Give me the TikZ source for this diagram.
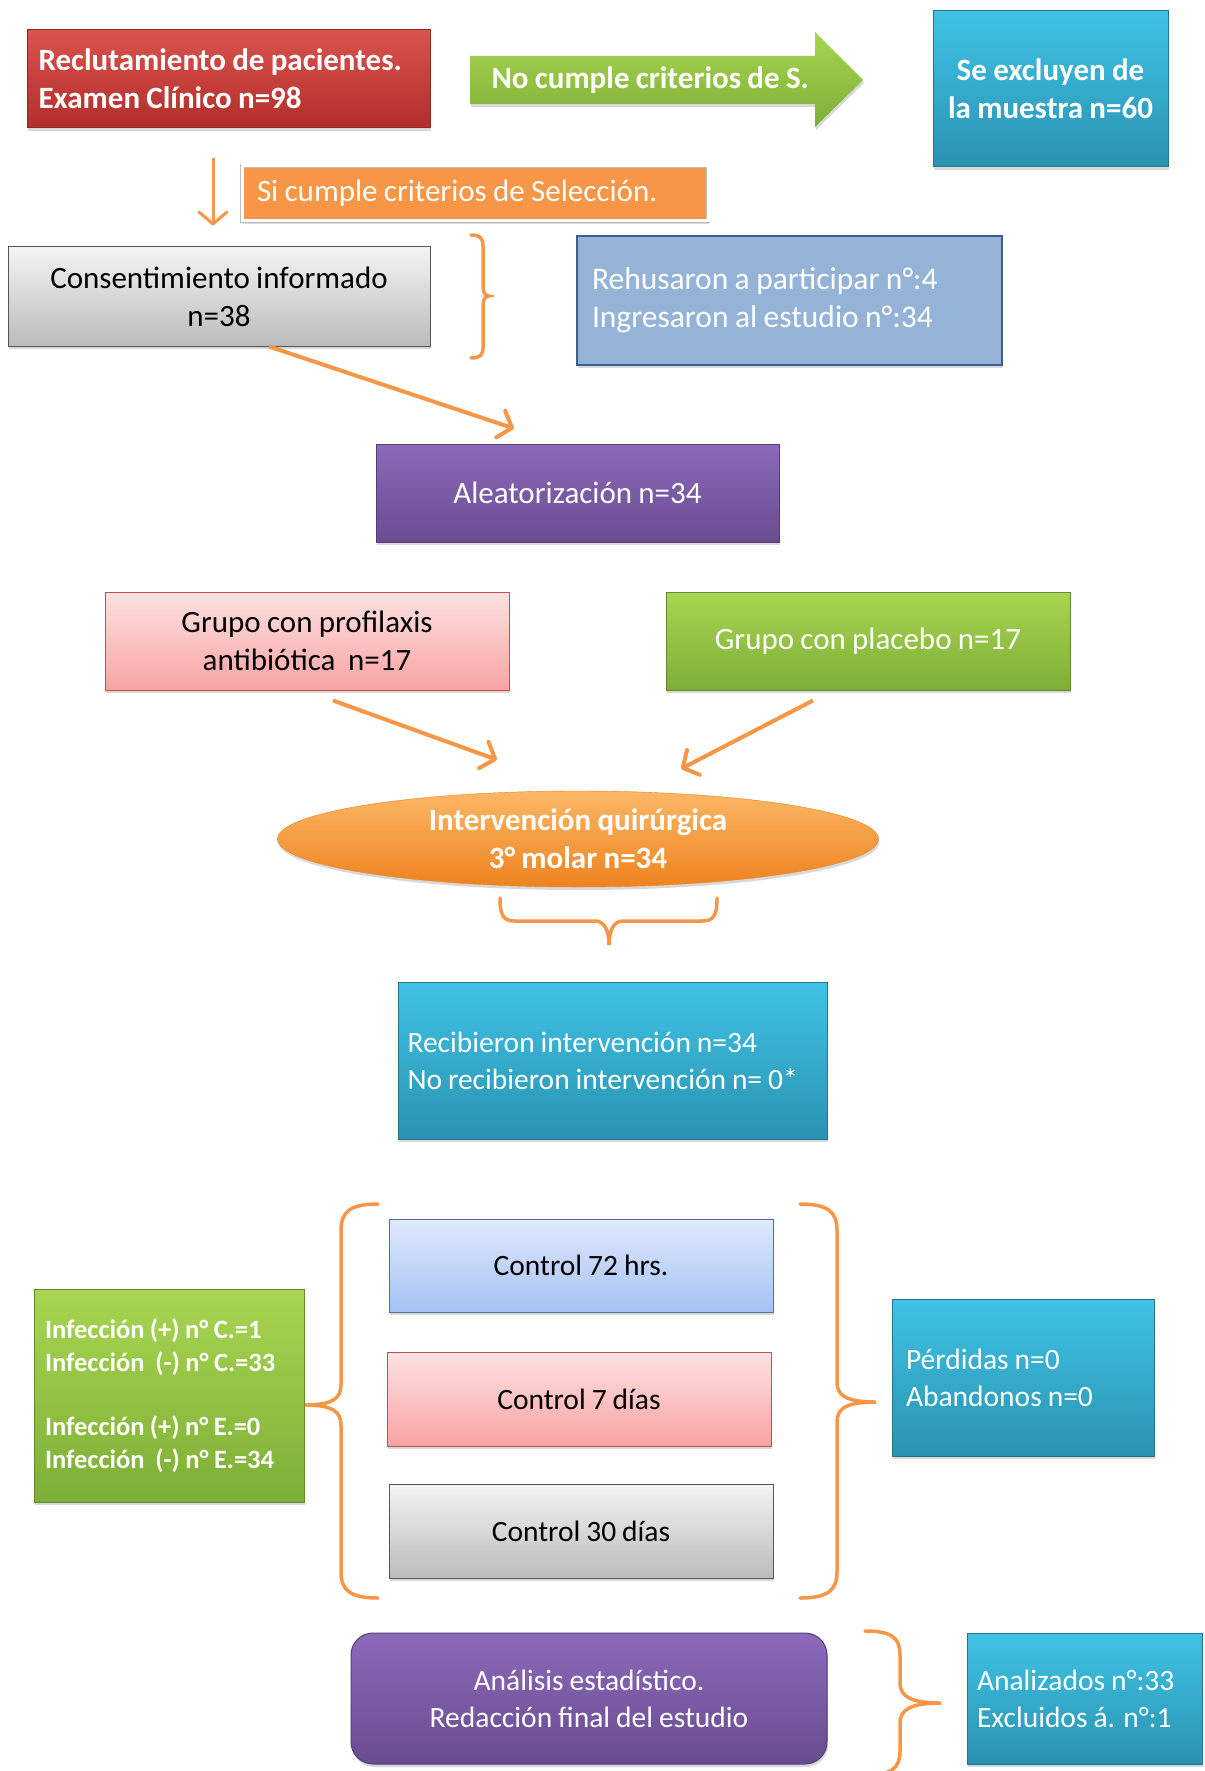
\documentclass[tikz,border=0pt]{standalone}
\usepackage{fontspec}
\setmainfont{Carlito}[WordSpace=0.9]
\usetikzlibrary{shapes.geometric, arrows.meta, shadows}

\definecolor{rojoT}{HTML}{D9534E}
\definecolor{rojoB}{HTML}{B22E2A}
\definecolor{rojoD}{HTML}{8E2825}
\definecolor{verdeT}{HTML}{A8D652}
\definecolor{verdeB}{HTML}{7DAE36}
\definecolor{aquaT}{HTML}{3FC3E6}
\definecolor{aquaB}{HTML}{2A92B0}
\definecolor{naranja}{HTML}{F79646}
\definecolor{naranjaT}{HTML}{FBB766}
\definecolor{naranjaB}{HTML}{EE831F}
\definecolor{grisT}{HTML}{F4F4F4}
\definecolor{grisB}{HTML}{BBBBBB}
\definecolor{grisD}{HTML}{555555}
\definecolor{azulR}{HTML}{95B3D7}
\definecolor{azulD}{HTML}{3A5F8F}
\definecolor{moradoT}{HTML}{8C69BA}
\definecolor{moradoB}{HTML}{694C90}
\definecolor{rosaT}{HTML}{FDE2E2}
\definecolor{rosaB}{HTML}{F9A3A3}
\definecolor{rosaD}{HTML}{C0504D}
\definecolor{celesteT}{HTML}{DFE9FD}
\definecolor{celesteB}{HTML}{A5C2F3}
\definecolor{celesteD}{HTML}{4F6FA0}

\newcommand\fsz{\fontsize{31}{38}\selectfont}
\newcommand\fsm{\fontsize{29.5}{37}\selectfont}
\newcommand\fsp{\fontsize{26.5}{32.5}\selectfont}

\tikzset{
  caja/.style={rectangle, inner sep=0pt, align=center, font=\fsz, text=white,
    drop shadow={shadow xshift=1pt, shadow yshift=-3pt, opacity=.3}},
  cajaizq/.style={caja, align=flush left},
  roja/.style={top color=rojoT, bottom color=rojoB, draw=rojoD, line width=1pt},
  aqua/.style={top color=aquaT, bottom color=aquaB, draw=aquaB!80!black, line width=1pt},
  gris/.style={top color=grisT, bottom color=grisB, draw=grisD, line width=1pt, text=black},
  morada/.style={top color=moradoT, bottom color=moradoB, draw=moradoB!80!black, line width=1pt},
  rosa/.style={top color=rosaT, bottom color=rosaB, draw=rosaD, line width=1pt, text=black},
  verde/.style={top color=verdeT, bottom color=verdeB, draw=verdeB!80!black, line width=1pt},
  celeste/.style={top color=celesteT, bottom color=celesteB, draw=celesteD, line width=1pt, text=black},
  conn/.style={draw=naranja, line width=4pt, -{Straight Barb[length=12pt,width=28pt,round]}},
  llave/.style={draw=naranja, line width=3.5pt, line cap=round},
}

\begin{document}
\begin{tikzpicture}[x=1pt,y=-1pt]
    % fondo
    \useasboundingbox[fill=white] (0,0) rectangle (1204,1771);

    % reclutamiento y exclusion
    \node[cajaizq, roja, font=\fsz\bfseries, text width=380pt, inner xsep=11.5pt,
        minimum height=98pt] (recl) at (228.5,79) {Reclutamiento de pacientes.\\Examen Clínico n=98};
    \path[top color=verdeT, bottom color=verdeB,
        drop shadow={shadow xshift=1pt, shadow yshift=-3pt, opacity=.3}]
        (470,56) -- (815,56) -- (815,32) -- (863,80) -- (815,127) -- (815,104) -- (470,104) -- cycle;
    \node[font=\fsz\bfseries, text=white, anchor=west] (nocumple) at (488,80) {No cumple criterios de S.};
    \node[caja, aqua, font=\fsz\bfseries, minimum width=235pt, minimum height=156pt]
        (excl) at (1050.5,89) {Se excluyen de\\la muestra n=60};

    % seleccion y consentimiento
    \node[cajaizq, fill=naranja, draw=black!25, double=white, double distance=3pt, line width=.8pt,
        text width=436pt, inner xsep=15pt, minimum height=55pt]
        (sicumple) at (475,193.5) {Si cumple criterios de Selección.};
    \node[caja, gris, minimum width=422pt, minimum height=99pt]
        (cons) at (219,296.5) {Consentimiento informado\\n=38};
    \node[cajaizq, fill=azulR, draw=azulD, line width=2.5pt, font=\fontsize{31.5}{38}\selectfont,
        text width=395pt, inner xsep=15pt, minimum height=129pt]
        (reh) at (789.5,300.5) {Rehusaron a participar n°:4\\Ingresaron al estudio n°:34};

    % aleatorizacion y grupos
    \node[caja, morada, minimum width=403pt, minimum height=98pt]
        (alea) at (577.5,493) {Aleatorización n=34};
    \node[caja, rosa, minimum width=404pt, minimum height=98pt]
        (prof) at (307,641) {Grupo con profilaxis\\antibiótica~ n=17};
    \node[caja, verde, minimum width=404pt, minimum height=98pt]
        (plac) at (868,641) {Grupo con placebo n=17};

    % intervencion
    \node[ellipse, inner sep=0pt, minimum width=601pt, minimum height=96pt, align=center,
        top color=naranjaT, bottom color=naranjaB, draw=naranjaB, font=\fsz\bfseries, text=white,
        drop shadow={shadow xshift=1pt, shadow yshift=-3pt, opacity=.3}]
        (interv) at (578,839) {Intervención quirúrgica\\3° molar n=34};
    \node[cajaizq, aqua, font=\fsm, text width=410pt, inner xsep=9.5pt, minimum height=157pt]
        (recib) at (612.5,1060.5) {Recibieron intervención n=34\\No recibieron intervención n= 0*};

    % controles
    \node[caja, celeste, font=\fsm, minimum width=384pt, minimum height=93pt] (c72) at (581,1265.5) {Control 72 hrs.};
    \node[caja, rosa, font=\fsm, minimum width=384pt, minimum height=94pt] (c7) at (579,1399) {Control 7 días};
    \node[caja, gris, font=\fsm, minimum width=384pt, minimum height=94pt] (c30) at (581,1531) {Control 30 días};
    \node[cajaizq, verde, font=\fsp\bfseries, text width=248pt, inner xsep=11pt, minimum height=213pt]
        (infec) at (169,1395.5) {Infección (+) n° C.=1\\Infección~ (-) n° C.=33\\[32pt]Infección (+) n° E.=0\\Infección~ (-) n° E.=34};
    \node[cajaizq, aqua, font=\fsm, text width=234pt, inner xsep=14pt, minimum height=157pt]
        (perd) at (1023,1377.5) {Pérdidas n=0\\Abandonos n=0};

    % analisis
    \node[caja, morada, font=\fsm, rounded corners=22pt, minimum width=476pt, minimum height=131pt]
        (anal) at (589,1698.5) {Análisis estadístico.\\Redacción final del estudio};
    \node[cajaizq, aqua, font=\fsm, text width=215pt, inner xsep=10pt, minimum height=131pt]
        (anz) at (1084.5,1698.5) {Analizados n°:33\\Excluidos á. n°:1};

    % flechas
    \draw[conn, line width=3pt] ([xshift=-15.5pt,yshift=-30pt]recl.south) -- ([xshift=-6pt,yshift=21pt]cons.north);
    \draw[conn] ([xshift=50pt]cons.south) -- ([xshift=-63.5pt,yshift=15pt]alea.north);
    \draw[conn] ([xshift=26pt,yshift=-10pt]prof.south) -- ([xshift=-81pt,yshift=31pt]interv.north);
    \draw[conn] ([xshift=-55pt,yshift=-10pt]plac.south) -- ([xshift=103pt,yshift=22pt]interv.north);

    % llaves
    \draw[llave] (471,235) .. controls (480,235) and (483,238) .. (483,246) -- (483,286)
        .. controls (483,292) and (485,296) .. (489,296) .. controls (485,296) and (483,300) .. (483,306)
        -- (483,348) .. controls (483,355) and (480,358) .. (471,358);
    \draw[llave] (500,898) .. controls (500,915) and (503,921) .. (515,921) -- (595,921)
        .. controls (604,921) and (609,930) .. (609,945) .. controls (609,930) and (614,921) .. (623,921)
        -- (702,921) .. controls (714,921) and (717,915) .. (717,898);
    \draw[llave] (378,1204) .. controls (350,1204) and (341,1212) .. (341,1230) -- (341,1385)
        .. controls (341,1398) and (333,1405) .. (305,1405) .. controls (333,1405) and (341,1412) .. (341,1425)
        -- (341,1572) .. controls (341,1590) and (350,1598) .. (378,1598);
    \draw[llave] (800,1204) .. controls (828,1204) and (837,1212) .. (837,1230) -- (837,1382)
        .. controls (837,1395) and (845,1402) .. (876,1402) .. controls (845,1402) and (837,1409) .. (837,1422)
        -- (837,1572) .. controls (837,1590) and (828,1598) .. (800,1598);
    \draw[llave] (865,1631) .. controls (892,1631) and (900,1638) .. (900,1655) -- (900,1683)
        .. controls (900,1696) and (910,1703) .. (941,1703) .. controls (910,1703) and (900,1710) .. (900,1723)
        -- (900,1751) .. controls (900,1768) and (892,1775) .. (865,1775);
\end{tikzpicture}
\end{document}
